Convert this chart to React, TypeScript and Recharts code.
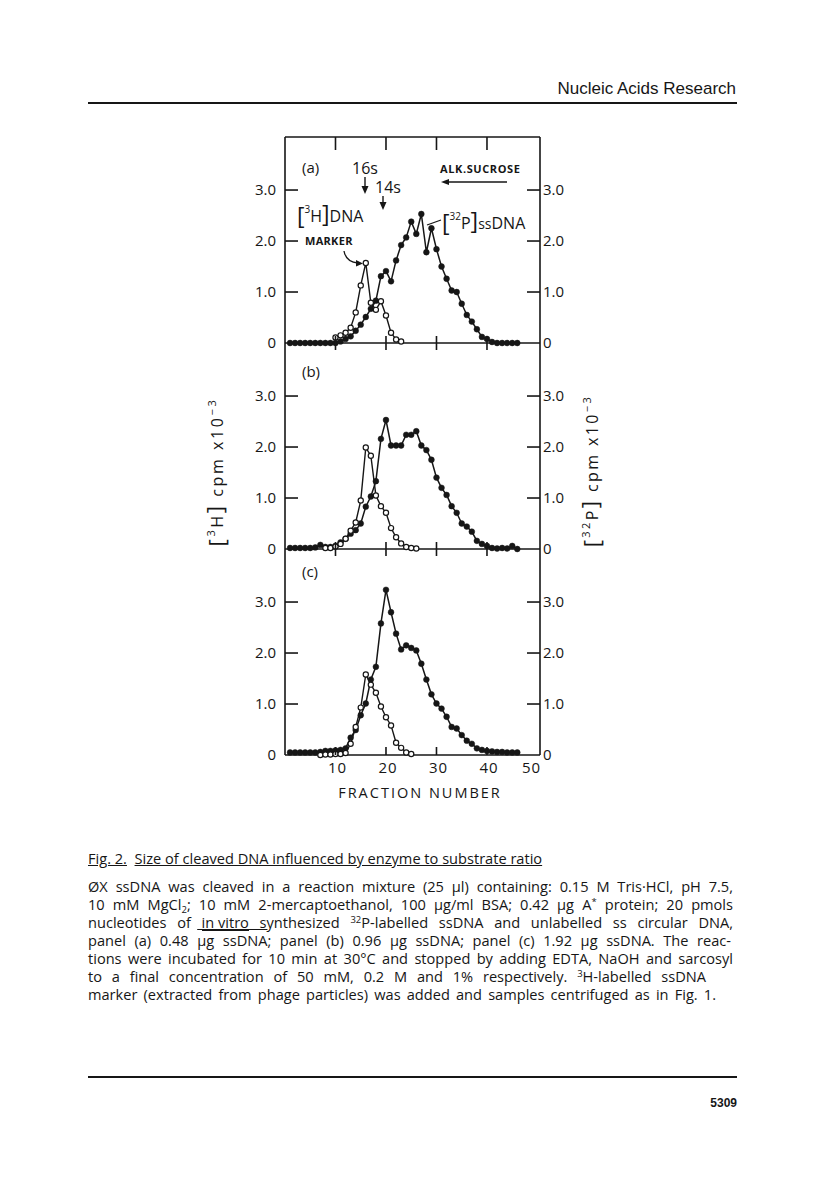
import { LineChart, Line, XAxis, YAxis } from "recharts";

const INK = "#161616";
const FONT = "'Open Sans', 'Noto Sans', sans-serif";

// fraction numbers along the gradient
const FRACTION = [
  1, 2, 3, 4, 5, 6, 7, 8, 9, 10, 11, 12, 13, 14, 15, 16, 17, 18, 19, 20, 21, 22, 23,
  24, 25, 26, 27, 28, 29, 30, 31, 32, 33, 34, 35, 36, 37, 38, 39, 40, 41, 42, 43, 44,
  45, 46,
];

// panel (a): 0.48 ug ssDNA
const A_P32 = [
  0, 0, 0, 0, 0, 0, 0, 0, 0, 0, 0.03, 0.08, 0.13, 0.24, 0.36, 0.51, 0.67, 0.83, 1.31,
  1.41, 1.21, 1.62, 1.92, 2.07, 2.38, 2.14, 2.53, 1.78, 2.25, 1.84, 1.5, 1.26, 1.03, 1.0,
  0.77, 0.55, 0.42, 0.27, 0.12, 0.08, 0.02, 0, 0, 0, 0, 0,
];
const A_H3 = [
  null, null, null, null, null, null, null, null, null, 0.11, 0.15, 0.2, 0.3, 0.6, 1.13,
  1.57, 0.79, 0.65, 0.82, 0.54, 0.2, 0.07, 0.03, null, null, null, null, null, null, null,
  null, null, null, null, null, null, null, null, null, null, null, null, null, null, null,
  null,
];

// panel (b): 0.96 ug ssDNA
const B_P32 = [
  0.02, 0.02, 0.02, 0.02, 0.02, 0.03, 0.08, 0.04, 0.04, 0.06, 0.13, 0.2, 0.3, 0.37, 0.5,
  0.83, 1.03, 1.33, 2.16, 2.53, 2.03, 2.03, 2.03, 2.24, 2.24, 2.31, 2.03, 1.94, 1.75, 1.4,
  1.2, 1.06, 0.84, 0.71, 0.5, 0.44, 0.34, 0.16, 0.1, 0.06, 0.02, 0.01, 0.02, 0.01, 0.06, 0,
];
const B_H3 = [
  null, null, null, null, null, null, null, 0.02, 0.02, 0.05, 0.1, 0.2, 0.36, 0.52, 0.95,
  1.99, 1.83, 1.05, 0.84, 0.71, 0.41, 0.23, 0.11, 0.04, 0.02, 0.01, null, null, null, null,
  null, null, null, null, null, null, null, null, null, null, null, null, null, null, null,
  null,
];

// panel (c): 1.92 ug ssDNA
const C_P32 = [
  0.05, 0.05, 0.05, 0.05, 0.05, 0.05, 0.06, 0.08, 0.08, 0.09, 0.1, 0.13, 0.34, 0.49, 0.78,
  1.01, 1.48, 1.73, 2.58, 3.24, 2.8, 2.38, 2.07, 2.15, 2.1, 2.05, 1.79, 1.48, 1.19, 1.01,
  0.91, 0.75, 0.55, 0.52, 0.39, 0.28, 0.22, 0.13, 0.1, 0.08, 0.07, 0.06, 0.06, 0.05, 0.05,
  0.05,
];
const C_H3 = [
  null, null, null, null, null, null, 0, 0.01, 0.01, 0.02, 0.02, 0.04, 0.22, 0.55, 0.93,
  1.58, 1.38, 1.22, 0.95, 0.74, 0.58, 0.24, 0.14, 0.05, 0.02, null, null, null, null, null,
  null, null, null, null, null, null, null, null, null, null, null, null, null, null, null,
  null,
];

const Y_TICKS = [0, 1, 2, 3];
const X_TICKS = [10, 20, 30, 40];
const X_LABELS = [10, 20, 30, 40, 50];

// layout of one panel
const YW = 60; // y axis width
const PW = 255; // plot width
const MT = 14; // top margin
const PH = 206; // plot height

const fmtY = (v: number) => (v === 0 ? "0" : v.toFixed(1));

const LeftTick = (props: any) => {
  const { y, payload } = props;
  return (
    <g>
      {payload.value !== 0 && (
        <line x1={YW} x2={YW + 13} y1={y} y2={y} stroke={INK} strokeWidth={1.6} />
      )}
      <text x={YW - 9} y={y + 5} textAnchor="end" fontSize={15} fontFamily={FONT} fill={INK}>
        {fmtY(payload.value)}
      </text>
    </g>
  );
};

const RightTick = (props: any) => {
  const { y, payload } = props;
  return (
    <g>
      {payload.value !== 0 && (
        <line x1={YW + PW - 13} x2={YW + PW} y1={y} y2={y} stroke={INK} strokeWidth={1.6} />
      )}
      <text x={YW + PW + 3} y={y + 5} textAnchor="start" fontSize={15} fontFamily={FONT} fill={INK}>
        {fmtY(payload.value)}
      </text>
    </g>
  );
};

const CrossTick = (props: any) => {
  const { x } = props;
  return <line x1={x} x2={x} y1={MT + PH - 7} y2={MT + PH + 7} stroke={INK} strokeWidth={1.6} />;
};

const TopTick = (props: any) => {
  const { x } = props;
  return <line x1={x} x2={x} y1={MT} y2={MT + 13} stroke={INK} strokeWidth={1.6} />;
};

const BottomTick = (props: any) => {
  const { x, payload } = props;
  const last = payload.value === 50;
  return (
    <g>
      {!last && (
        <line x1={x} x2={x} y1={MT + PH - 8} y2={MT + PH} stroke={INK} strokeWidth={1.6} />
      )}
      <text
        x={last ? x - 6 : x + 2}
        y={MT + PH + 18}
        textAnchor="middle"
        fontSize={15}
        fontFamily={FONT}
        fill={INK}
        letterSpacing={1}
      >
        {payload.value}
      </text>
    </g>
  );
};

type PanelProps = {
  top: number;
  p32: number[];
  h3: (number | null)[];
  first?: boolean;
  last?: boolean;
};

function Panel({ top, p32, h3, first, last }: PanelProps) {
  const data = FRACTION.map((f, i) => ({ f, p: p32[i], h: h3[i] }));
  const mb = last ? 43 : 13;
  const mt = first ? MT - 1 : MT;
  const axisLine = { stroke: INK, strokeWidth: 1.6 };

  return (
    <div style={{ position: "absolute", left: 285 - YW, top: top - MT }}>
      <LineChart
        width={YW * 2 + PW}
        height={MT + PH + mb + 1}
        data={data}
        margin={{ top: mt, right: 0, bottom: mb, left: 0 }}
      >
        <XAxis
          xAxisId="b"
          dataKey="f"
          type="number"
          domain={[0, 50.5]}
          ticks={last ? X_LABELS : X_TICKS}
          interval={0}
          height={1}
          tickLine={false}
          axisLine={axisLine}
          tick={last ? BottomTick : CrossTick}
        />
        {first && (
          <XAxis
            xAxisId="t"
            orientation="top"
            dataKey="f"
            type="number"
            domain={[0, 50.5]}
            ticks={X_TICKS}
            interval={0}
            height={1}
            tickLine={false}
            axisLine={axisLine}
            tick={TopTick}
          />
        )}
        <YAxis
          yAxisId="l"
          width={YW}
          domain={[0, 4.04]}
          ticks={Y_TICKS}
          interval={0}
          tickLine={false}
          axisLine={axisLine}
          tick={LeftTick}
        />
        <YAxis
          yAxisId="r"
          orientation="right"
          width={YW}
          domain={[0, 4.04]}
          ticks={Y_TICKS}
          interval={0}
          tickLine={false}
          axisLine={axisLine}
          tick={RightTick}
        />
        <Line
          xAxisId="b"
          yAxisId="r"
          type="linear"
          dataKey="p"
          stroke={INK}
          strokeWidth={1.5}
          dot={{ r: 2.9, fill: INK, stroke: INK, strokeWidth: 0.5 }}
          activeDot={false}
          isAnimationActive={false}
        />
        <Line
          xAxisId="b"
          yAxisId="l"
          type="linear"
          dataKey="h"
          stroke={INK}
          strokeWidth={1.4}
          dot={{ r: 2.6, fill: "#fff", stroke: INK, strokeWidth: 1.2 }}
          activeDot={false}
          isAnimationActive={false}
        />
      </LineChart>
    </div>
  );
}

const capLine = (top: number, width: number | null): React.CSSProperties => ({
  position: "absolute",
  left: 88,
  top,
  width: width ?? undefined,
  height: 18,
  lineHeight: "18px",
  whiteSpace: width ? "nowrap" : "pre",
  textAlign: width ? "justify" : "left",
  textAlignLast: width ? "justify" : "left",
});

const sup: React.CSSProperties = { fontSize: 9.5, verticalAlign: "5px", lineHeight: 0 };
const sub: React.CSSProperties = { fontSize: 9.5, verticalAlign: "-3px", lineHeight: 0 };
const boxUnder: React.CSSProperties = {
  display: "inline-block",
  lineHeight: "15px",
  borderBottom: `1px solid ${INK}`,
};

export default function App() {
  return (
    <div
      style={{
        position: "absolute",
        left: 0,
        top: 0,
        width: 816,
        height: 1204,
        background: "#fff",
        overflow: "hidden",
        color: INK,
      }}
    >
      <div
        style={{
          position: "absolute",
          right: 80,
          top: 79,
          fontFamily: "'Liberation Sans', Arial, sans-serif",
          fontSize: 17,
          lineHeight: "20px",
        }}
      >
        Nucleic Acids Research
      </div>
      <div style={{ position: "absolute", left: 88, top: 102, width: 649, height: 2, background: INK }} />

      <Panel top={137} p32={A_P32} h3={A_H3} first />
      <Panel top={343} p32={B_P32} h3={B_H3} />
      <Panel top={549} p32={C_P32} h3={C_H3} last />

      <svg
        width={816}
        height={1204}
        style={{ position: "absolute", left: 0, top: 0, pointerEvents: "none" }}
      >
        <g fontFamily={FONT} fill={INK}>
          <text x={302} y={173} fontSize={15}>(a)</text>
          <text x={302} y={377} fontSize={15}>(b)</text>
          <text x={302} y={577} fontSize={15}>(c)</text>

          <text x={352} y={174} fontSize={16}>16s</text>
          <line x1={365} y1={177} x2={365} y2={188} stroke={INK} strokeWidth={1.4} />
          <polygon points="361.5,186 368.5,186 365,194" />
          <text x={375} y={193} fontSize={16}>14s</text>
          <line x1={383} y1={196} x2={383} y2={204} stroke={INK} strokeWidth={1.4} />
          <polygon points="379.5,202 386.5,202 383,210" />

          <text x={440} y={173} fontSize={11} fontWeight="bold" letterSpacing={0.6}>ALK.SUCROSE</text>
          <line x1={447} y1={182} x2={507} y2={182} stroke={INK} strokeWidth={1.3} />
          <polygon points="441,182 449,179 449,185" />

          <text x={297} y={222} fontSize={16}>
            <tspan fontSize={23} dy={2}>[</tspan>
            <tspan fontSize={10} dy={-11}>3</tspan>
            <tspan dy={9}>H</tspan>
            <tspan fontSize={23} dy={0}>]</tspan>
            <tspan>DNA</tspan>
          </text>
          <text x={305} y={245} fontSize={11} fontWeight="bold" letterSpacing={0.3}>MARKER</text>
          <path d="M344 251 Q346 262 358 263" fill="none" stroke={INK} strokeWidth={1.3} />
          <polygon points="363,263.5 356,260 356,266.5" />

          <text x={442} y={229} fontSize={16}>
            <tspan fontSize={23} dy={2}>[</tspan>
            <tspan fontSize={10} dy={-11}>32</tspan>
            <tspan dy={9}>P</tspan>
            <tspan fontSize={23}>]</tspan>
            <tspan fontSize={14}>ss</tspan>
            <tspan>DNA</tspan>
          </text>
          <line x1={441} y1={220} x2={427} y2={225} stroke={INK} strokeWidth={1.3} />

          <text transform="translate(223,472) rotate(-90)" textAnchor="middle" fontSize={16} letterSpacing={2.6}>
            <tspan fontSize={22} dy={2}>[</tspan>
            <tspan fontSize={11} dy={-10}>3</tspan>
            <tspan dy={8}>H</tspan>
            <tspan fontSize={22}>]</tspan>
            <tspan> cpm x10</tspan>
            <tspan fontSize={11} dy={-7}>−3</tspan>
          </text>
          <text transform="translate(598,471) rotate(-90)" textAnchor="middle" fontSize={16} letterSpacing={2.4}>
            <tspan fontSize={22} dy={2}>[</tspan>
            <tspan fontSize={11} dy={-10}>32</tspan>
            <tspan dy={8}>P</tspan>
            <tspan fontSize={22}>]</tspan>
            <tspan> cpm x10</tspan>
            <tspan fontSize={11} dy={-7}>−3</tspan>
          </text>

          <text x={420} y={798} textAnchor="middle" fontSize={14.5} letterSpacing={2}>FRACTION NUMBER</text>
        </g>
      </svg>

      <div style={{ fontFamily: FONT, fontSize: 14.6 }}>
        <div style={capLine(849, null)}>
          <span style={{ textDecoration: "underline" }}>Fig. 2.</span>
          {"  "}
          <span style={{ textDecoration: "underline" }}>
            Size of cleaved DNA influenced by enzyme to substrate ratio
          </span>
        </div>
        <div style={capLine(877, 645)}>
          ØX ssDNA was cleaved in a reaction mixture (25 µl) containing: 0.15 M Tris·HCl, pH 7.5,
        </div>
        <div style={capLine(895, 645)}>
          10 mM MgCl<span style={sub}>2</span>; 10 mM 2-mercaptoethanol, 100 µg/ml BSA; 0.42 µg A
          <span style={sup}>*</span> protein; 20 pmols
        </div>
        <div style={capLine(913, 645)}>
          nucleotides of <span style={boxUnder}>in vitro</span> synthesized{" "}
          <span style={sup}>32</span>P-labelled ssDNA and unlabelled ss circular DNA,
        </div>
        <div style={capLine(931, 643)}>
          panel (a) 0.48 <span style={{ textDecoration: "overline" }}>µg ssDNA</span>; panel (b) 0.96 µg
          ssDNA; panel (c) 1.92 µg ssDNA. The reac-
        </div>
        <div style={capLine(949, 645)}>
          tions were incubated for 10 min at 30°C and stopped by adding EDTA, NaOH and sarcosyl
        </div>
        <div style={capLine(967, 618)}>
          to a final concentration of 50 mM, 0.2 M and 1% respectively. <span style={sup}>3</span>
          H-labelled ssDNA
        </div>
        <div style={capLine(985, 628)}>
          marker (extracted from phage particles) was added and samples centrifuged as in Fig. 1.
        </div>
      </div>

      <div style={{ position: "absolute", left: 88, top: 1076, width: 649, height: 1.5, background: INK }} />
      <div
        style={{
          position: "absolute",
          right: 79,
          top: 1095,
          fontFamily: "'Liberation Sans', Arial, sans-serif",
          fontSize: 12,
          fontWeight: "bold",
          lineHeight: "16px",
        }}
      >
        5309
      </div>
    </div>
  );
}
